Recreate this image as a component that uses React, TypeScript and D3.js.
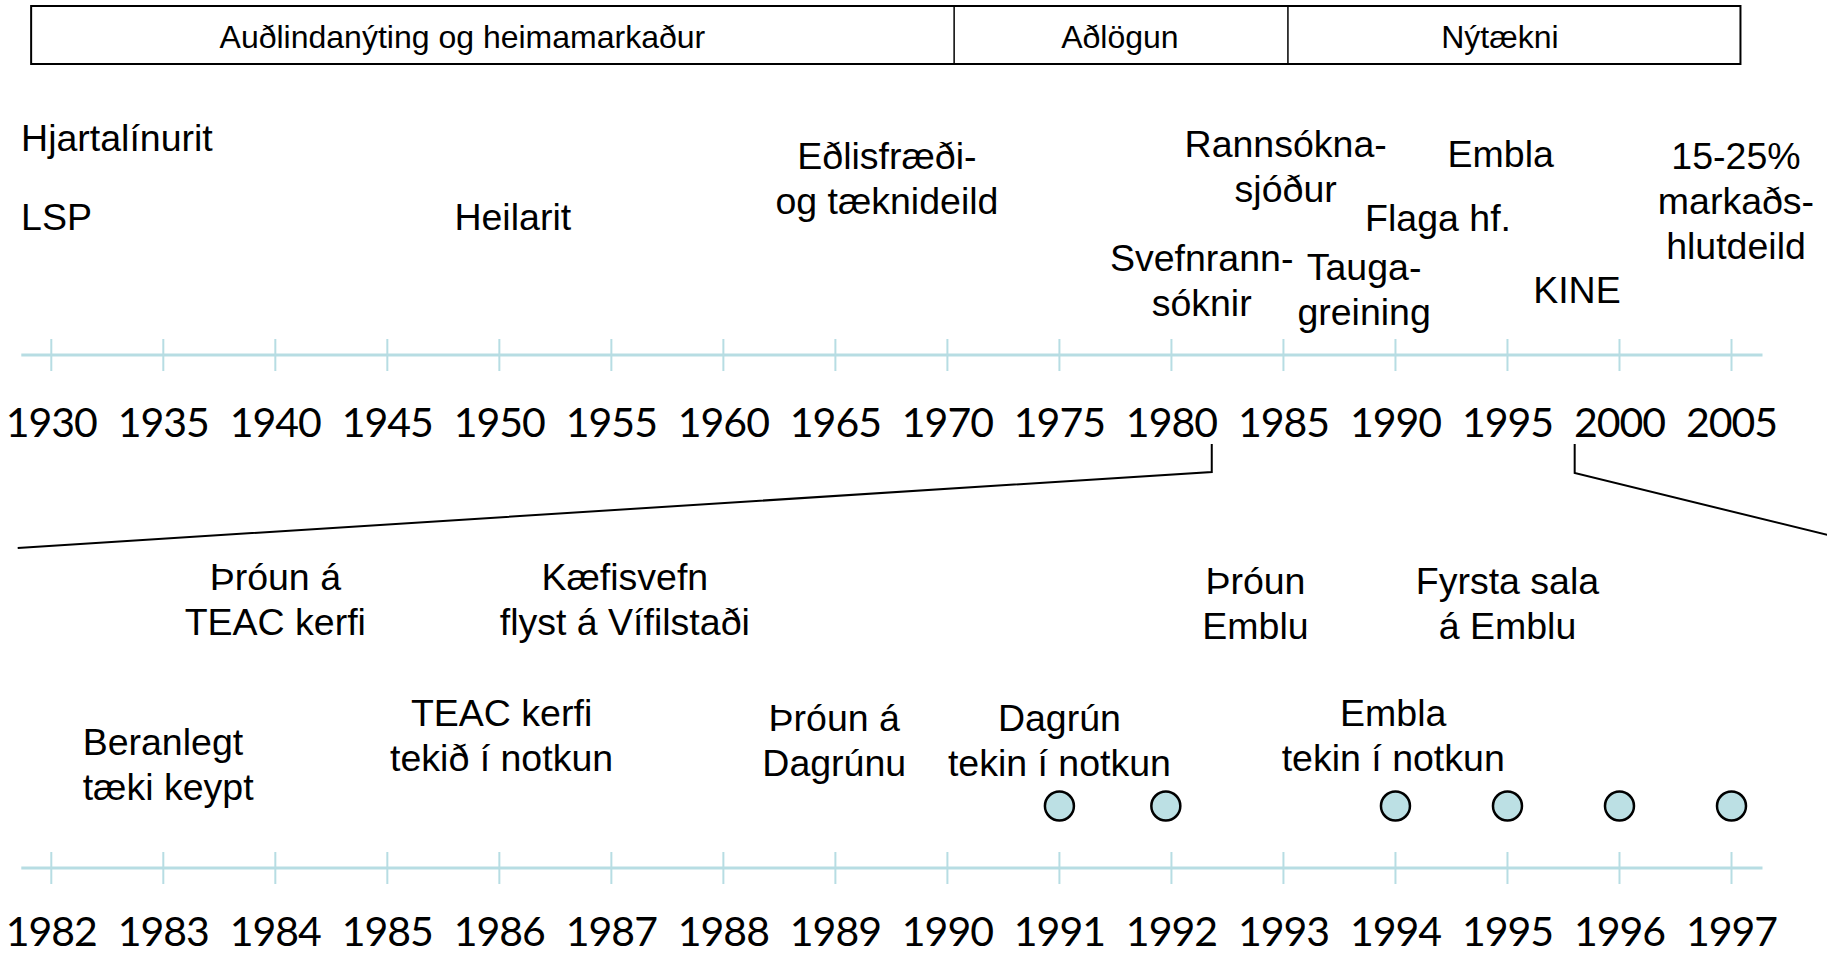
import React, { useEffect, useRef } from 'react';
import * as d3 from 'd3';

const width = 1827;
const height = 956;

// periods shown in the header box (years on the upper scale)
const periodLabels = ['Auðlindanýting og heimamarkaður', 'Aðlögun', 'Nýtækni'];
const periodStart = [1929.1, 1970.3, 1985.2];
const periodEnd = [1970.3, 1985.2, 2005.4];
const periodLabelAt = [1948.35, 1977.7, 1994.66];

// upper timeline
const upperYears = [1930, 1935, 1940, 1945, 1950, 1955, 1960, 1965, 1970, 1975, 1980, 1985, 1990, 1995, 2000, 2005];
const upperEvents = [
  { year: 1928.65, lines: ['Hjartalínurit'], anchor: 'start', row: 0 },
  { year: 1928.65, lines: ['LSP'], anchor: 'start', row: 3 },
  { year: 1950.6, lines: ['Heilarit'], anchor: 'middle', row: 3 },
  { year: 1967.3, lines: ['Eðlisfræði-', 'og tæknideild'], anchor: 'middle', row: 1 },
  { year: 1985.1, lines: ['Rannsókna-', 'sjóður'], anchor: 'middle', row: 4 },
  { year: 1994.7, lines: ['Embla'], anchor: 'middle', row: 5 },
  { year: 1991.9, lines: ['Flaga hf.'], anchor: 'middle', row: 6 },
  { year: 2005.2, lines: ['15-25%', 'markaðs-', 'hlutdeild'], anchor: 'middle', row: 1 },
  { year: 1981.35, lines: ['Svefnrann-', 'sóknir'], anchor: 'middle', row: 7 },
  { year: 1988.6, lines: ['Tauga-', 'greining'], anchor: 'middle', row: 8 },
  { year: 1998.1, lines: ['KINE'], anchor: 'middle', row: 9 },
];
const upperRowY = [151, 169, 0, 230, 157, 167, 231, 271, 280, 303];

// lower (zoomed) timeline
const lowerYears = [1982, 1983, 1984, 1985, 1986, 1987, 1988, 1989, 1990, 1991, 1992, 1993, 1994, 1995, 1996, 1997];
const lowerEvents = [
  { year: 1984.0, lines: ['Þróun á', 'TEAC kerfi'], anchor: 'middle', row: 0 },
  { year: 1987.12, lines: ['Kæfisvefn', 'flyst á Vífilstaði'], anchor: 'middle', row: 0 },
  { year: 1992.75, lines: ['Þróun', 'Emblu'], anchor: 'middle', row: 1 },
  { year: 1995.0, lines: ['Fyrsta sala', 'á Emblu'], anchor: 'middle', row: 1 },
  { year: 1982.28, lines: ['Beranlegt', 'tæki keypt'], anchor: 'start', row: 2 },
  { year: 1986.02, lines: ['TEAC kerfi', 'tekið í notkun'], anchor: 'middle', row: 3 },
  { year: 1988.99, lines: ['Þróun á', 'Dagrúnu'], anchor: 'middle', row: 4 },
  { year: 1991.0, lines: ['Dagrún', 'tekin í notkun'], anchor: 'middle', row: 4 },
  { year: 1993.98, lines: ['Embla', 'tekin í notkun'], anchor: 'middle', row: 3 },
];
const lowerRowY = [590, 594, 755, 726, 731];
const dotYears = [1991, 1991.95, 1994, 1995, 1996, 1997];

// span of the upper axis that the lower axis blows up
const zoomFrom = 1981.8;
const zoomTo = 1998;

const axisColor = '#b7dde3';
const dotColor = '#bce0e4';
const textFont = '"Liberation Sans", Arial, sans-serif';
const yearFont = 'Lato, "Noto Sans", sans-serif';

export default function App() {
  const ref = useRef<SVGSVGElement>(null);

  useEffect(() => {
    const svg = d3.select(ref.current);
    svg.selectAll('*').remove();

    const xUp = d3.scaleLinear().domain([1930, 2005]).range([51.3, 1731.5]);
    const xLow = d3.scaleLinear().domain([1982, 1997]).range([51.3, 1731.5]);

    // header box
    const head = svg.append('g');
    head.append('rect')
      .attr('x', xUp(periodStart[0])).attr('y', 6)
      .attr('width', xUp(periodEnd[2]) - xUp(periodStart[0])).attr('height', 58)
      .attr('fill', 'none').attr('stroke', '#000').attr('stroke-width', 2);
    periodLabels.forEach((p, i) => {
      if (i > 0) {
        head.append('line')
          .attr('x1', xUp(periodStart[i])).attr('x2', xUp(periodStart[i]))
          .attr('y1', 6).attr('y2', 64)
          .attr('stroke', '#000').attr('stroke-width', 1.5);
      }
      head.append('text')
        .attr('x', xUp(periodLabelAt[i]))
        .attr('y', 48)
        .attr('text-anchor', 'middle')
        .style('font-family', textFont).style('font-size', '32px')
        .text(p);
    });

    const drawAxis = (x: d3.ScaleLinear<number, number>, years: number[], y: number, labelY: number) => {
      const g = svg.append('g');
      g.append('line')
        .attr('x1', x(years[0]) - 30).attr('x2', x(years[years.length - 1]) + 31)
        .attr('y1', y).attr('y2', y)
        .attr('stroke', axisColor).attr('stroke-width', 3);
      g.selectAll('.tick').data(years).enter().append('line')
        .attr('x1', (d) => x(d)).attr('x2', (d) => x(d))
        .attr('y1', y - 16).attr('y2', y + 16)
        .attr('stroke', axisColor).attr('stroke-width', 2);
      g.selectAll('.yl').data(years).enter().append('text')
        .attr('x', (d) => x(d)).attr('y', labelY)
        .attr('text-anchor', 'middle')
        .style('font-family', yearFont).style('font-size', '41px')
        .style('letter-spacing', '-1px')
        .text((d) => d);
    };

    drawAxis(xUp, upperYears, 355, 437);
    drawAxis(xLow, lowerYears, 868, 946);

    const drawEvents = (x: d3.ScaleLinear<number, number>, events: any[], rowY: number[]) => {
      const g = svg.append('g');
      events.forEach((ev) => {
        const t = g.append('text')
          .attr('x', x(ev.year)).attr('y', rowY[ev.row])
          .attr('text-anchor', ev.anchor)
          .style('font-family', textFont).style('font-size', '37.5px');
        ev.lines.forEach((l: string, i: number) => {
          t.append('tspan')
            .attr('x', x(ev.year))
            .attr('dy', i === 0 ? 0 : 45)
            .text(l);
        });
      });
    };

    drawEvents(xUp, upperEvents, upperRowY);
    drawEvents(xLow, lowerEvents, lowerRowY);

    // zoom connectors
    const z = svg.append('g').attr('fill', 'none').attr('stroke', '#000').attr('stroke-width', 2);
    z.append('path').attr('d', d3.line()([
      [xUp(zoomFrom), 444], [xUp(zoomFrom), 472], [xLow(1981.7), 548],
    ]));
    z.append('path').attr('d', d3.line()([
      [xUp(zoomTo), 444], [xUp(zoomTo), 473], [xLow(1997.86), 535],
    ]));

    // dots
    svg.append('g').selectAll('circle').data(dotYears).enter().append('circle')
      .attr('cx', (d) => xLow(d)).attr('cy', 806)
      .attr('r', 14.5)
      .attr('fill', dotColor).attr('stroke', '#000').attr('stroke-width', 2.5);
  }, []);

  return (
    <svg ref={ref} width={width} height={height}
      style={{ position: 'absolute', left: 0, top: 0, background: '#fff' }} />
  );
}
